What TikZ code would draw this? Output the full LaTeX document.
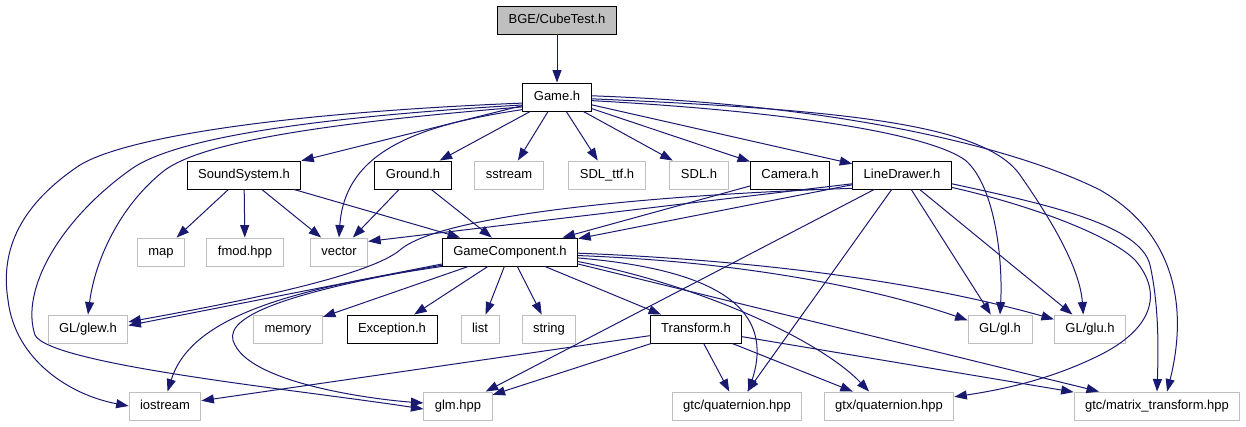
\documentclass[tikz,border=0pt]{standalone}
\usepackage{fontspec}
\setmainfont{Liberation Sans}
\usepackage{xcolor}
\usetikzlibrary{arrows.meta}
\definecolor{edgeblue}{HTML}{191970}
\definecolor{extgray}{HTML}{BFBFBF}

\begin{document}
\begin{tikzpicture}[x=1pt, y=-1pt,
  every node/.style={font=\fontsize{13}{15}\selectfont, minimum height=28pt, inner xsep=11pt, inner ysep=0pt, text height=9.5pt, text depth=2.6pt, line width=0.9pt},
  doc/.style={draw=black},
  ext/.style={draw=extgray},
  root/.style={draw=black, fill=extgray},
  dep/.style={draw=edgeblue, line width=1pt, -{Triangle[length=12.5pt,width=9pt]}}]
\useasboundingbox (0,0) rectangle (1246,427);

\node[root] (cube) at (557,20) {BGE/CubeTest.h};
\node[doc] (game) at (557,97) {Game.h};

\node[doc] (snd) at (244,175) {SoundSystem.h};
\node[doc] (ground) at (413,175) {Ground.h};
\node[ext] (sstream) at (509,175) {sstream};
\node[ext] (sdlttf) at (607,175) {SDL\_ttf.h};
\node[ext] (sdl) at (699,175) {SDL.h};
\node[doc] (camera) at (790,175) {Camera.h};
\node[doc] (linedr) at (902,175) {LineDrawer.h};

\node[ext] (map) at (161,252) {map};
\node[ext] (fmod) at (245,252) {fmod.hpp};
\node[ext] (vector) at (339,252) {vector};
\node[doc] (gc) at (510,252) {GameComponent.h};

\node[ext] (glew) at (88,329) {GL/glew.h};
\node[ext] (memory) at (288,329) {memory};
\node[doc] (exception) at (392,329) {Exception.h};
\node[ext] (list) at (480,329) {list};
\node[ext] (string) at (549,329) {string};
\node[doc] (transform) at (696,329) {Transform.h};
\node[ext] (gl) at (1000,329) {GL/gl.h};
\node[ext] (glu) at (1090,329) {GL/glu.h};

\node[ext] (iostream) at (165,406) {iostream};
\node[ext] (glm) at (458,406) {glm.hpp};
\node[ext] (gtcq) at (737,406) {gtc/quaternion.hpp};
\node[ext] (gtxq) at (889,406) {gtx/quaternion.hpp};
\node[ext] (mtx) at (1157,406) {gtc/matrix\_transform.hpp};

\draw[dep] (cube) -- (game);

\draw[dep] (game) -- (snd);
\draw[dep] (game) -- (ground);
\draw[dep] (game) -- (sstream);
\draw[dep] (game) -- (sdlttf);
\draw[dep] (game) -- (sdl);
\draw[dep] (game) -- (camera);
\draw[dep] (game) -- (linedr);
\draw[dep] (game.200) .. controls (420,125) and (345,150) .. (vector.north);
\draw[dep] (game.190) .. controls (300,112) and (130,135) .. (80,165)
      .. controls (20,205) and (0,250) .. (8,300)
      .. controls (15,360) and (70,395) .. (iostream.west);
\draw[dep] (game.193) .. controls (300,118) and (170,140) .. (130,170)
      .. controls (60,220) and (20,290) .. (35,335)
      .. controls (50,365) and (300,390) .. (glm.185);
\draw[dep] (game.196) .. controls (300,125) and (200,145) .. (165,170)
      .. controls (120,205) and (95,260) .. (glew.north);
\draw[dep] (game.-6) .. controls (800,112) and (930,135) .. (965,160)
      .. controls (995,185) and (1003,260) .. (gl.north);
\draw[dep] (game.-3) .. controls (850,110) and (985,125) .. (1020,175)
      .. controls (1055,225) and (1080,270) .. (glu.115);
\draw[dep] (game.2) .. controls (850,105) and (1020,150) .. (1100,190)
      .. controls (1170,230) and (1190,300) .. (mtx.55);

\draw[dep] (snd) -- (map);
\draw[dep] (snd) -- (fmod);
\draw[dep] (snd) -- (vector);
\draw[dep] (snd) -- (gc);
\draw[dep] (ground) -- (vector);
\draw[dep] (ground) -- (gc);
\draw[dep] (camera) -- (gc);

\draw[dep] (linedr) -- (gc);
\draw[dep] (linedr.190) -- (vector.20);
\draw[dep] (linedr.195) .. controls (650,195) and (440,215) .. (400,250)
      .. controls (370,275) and (250,300) .. (glew.10);
\draw[dep] (linedr) -- (glm);
\draw[dep] (linedr) -- (gtcq);
\draw[dep] (linedr) -- (gl);
\draw[dep] (linedr) -- (glu);
\draw[dep] (linedr.-14) .. controls (1030,205) and (1110,235) .. (1135,260)
      .. controls (1165,295) and (1150,330) .. (1100,355)
      .. controls (1050,380) and (1000,390) .. (gtxq.8);
\draw[dep] (linedr.-10) .. controls (1050,205) and (1140,225) .. (1150,265)
      .. controls (1160,310) and (1158,360) .. (mtx.north);

\draw[dep] (gc.190) -- (glew.5);
\draw[dep] (gc) -- (memory);
\draw[dep] (gc) -- (exception);
\draw[dep] (gc) -- (list);
\draw[dep] (gc) -- (string);
\draw[dep] (gc) -- (transform);
\draw[dep] (gc.192) .. controls (280,290) and (190,320) .. (iostream.80);
\draw[dep] (gc.191) .. controls (270,295) and (220,320) .. (235,345)
      .. controls (255,385) and (380,400) .. (glm.175);
\draw[dep] (gc.-3) .. controls (750,262) and (880,290) .. (gl.165);
\draw[dep] (gc.-1) .. controls (800,262) and (950,290) .. (glu.165);
\draw[dep] (gc.-5) .. controls (720,270) and (775,310) .. (gtcq.52);
\draw[dep] (gc.-8) .. controls (700,285) and (820,340) .. (gtxq.144);
\draw[dep] (gc.-10) -- (mtx.166);

\draw[dep] (transform) -- (iostream);
\draw[dep] (transform) -- (glm);
\draw[dep] (transform) -- (gtcq);
\draw[dep] (transform) -- (gtxq);
\draw[dep] (transform) -- (mtx);
\end{tikzpicture}
\end{document}
